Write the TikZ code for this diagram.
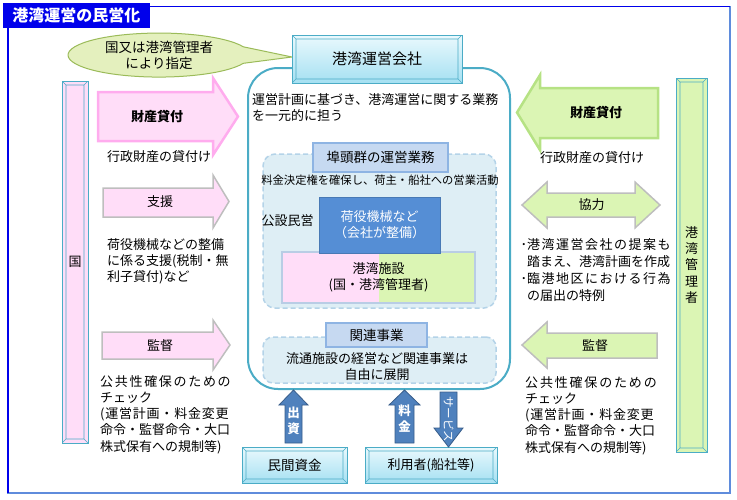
\documentclass[tikz,border=0pt]{standalone}
\usepackage{fontspec}
\setmainfont{Noto Sans CJK JP}

\definecolor{titleblue}{RGB}{0,0,235}
\definecolor{framelight}{RGB}{95,140,220}
\definecolor{bevline}{RGB}{75,172,198}
\definecolor{bevtop}{RGB}{234,249,253}
\definecolor{bevbot}{RGB}{165,224,242}
\definecolor{pinkfill}{RGB}{255,221,248}
\definecolor{pinkline}{RGB}{255,172,238}
\definecolor{greenfill}{RGB}{219,245,180}
\definecolor{greenline}{RGB}{182,226,132}
\definecolor{greyline}{RGB}{190,190,190}
\definecolor{ellfill}{RGB}{228,240,190}
\definecolor{ellline}{RGB}{155,187,89}
\definecolor{dashfill}{RGB}{222,238,245}
\definecolor{dashline}{RGB}{180,211,232}
\definecolor{labfill}{RGB}{198,217,241}
\definecolor{labline}{RGB}{142,180,227}
\definecolor{darkbox}{RGB}{85,142,213}
\definecolor{facline}{RGB}{185,205,229}
\definecolor{arrblue}{RGB}{79,129,189}
\definecolor{arrline}{RGB}{56,93,138}

\tikzset{
  bevel/.style={draw=bevline, line width=1pt, path picture={
      \draw[bevline, line width=0.6pt]
        ([shift={(4pt,4pt)}]path picture bounding box.south west) rectangle ([shift={(-4pt,-4pt)}]path picture bounding box.north east)
        (path picture bounding box.south west) -- ++(4pt,4pt)
        (path picture bounding box.north west) -- ++(4pt,-4pt)
        (path picture bounding box.north east) -- ++(-4pt,-4pt)
        (path picture bounding box.south east) -- ++(-4pt,4pt);}},
  cyanbox/.style={bevel, top color=bevtop, bottom color=bevbot},
  mainbox/.style={draw=bevline, fill=white, line width=2pt, rounded corners=30},
  dashbox/.style={draw=dashline, fill=dashfill, line width=1.5pt, dash pattern=on 5pt off 3pt, rounded corners=12},
  labbox/.style={draw=labline, fill=labfill, line width=1.5pt, font=\fontsize{13.5}{16}\selectfont},
  facbox/.style={draw=facline, line width=2.5pt, path picture={
      \fill[pinkfill] (path picture bounding box.south west) rectangle (path picture bounding box.north);
      \fill[greenfill] (path picture bounding box.south) rectangle (path picture bounding box.north east);}},
  pinkarr/.style={fill=pinkfill, draw=greyline, line width=1.5pt},
  greenarr/.style={fill=greenfill, draw=greyline, line width=1.5pt},
  bluearr/.style={fill=arrblue, draw=arrline, line width=0.8pt},
  arrtxt/.style={text=white, align=center, font=\fontsize{12.5}{16}\selectfont\bfseries}
}

\begin{document}
\begin{tikzpicture}[x=1pt,y=-1pt,
    every node/.style={inner sep=0pt, font=\fontsize{13}{16}\selectfont}]
    \useasboundingbox (0,0) rectangle (737,499);

    % 外枠とタイトル
    \draw[framelight, line width=1.5pt] (8,6.5) rectangle (730,493);
    \draw[titleblue, line width=1.2pt] (8,493) -- (8,6.5) -- (730,6.5);
    \node[fill=titleblue, text=white, font=\fontsize{16}{18}\selectfont\bfseries,
          minimum width=147, minimum height=25] (title) at (76.5,15.5) {港湾運営の民営化};

    % 吹き出し
    \filldraw[fill=ellfill, draw=ellline, line width=1pt] (243.4,63.3)
        arc[start angle=22, end angle=338, x radius=91, y radius=22] -- (292,57) -- cycle;
    \node[align=center, font=\fontsize{13.5}{15.5}\selectfont] (shitei) at (159,55.5) {国又は港湾管理者\\により指定};

    % 港湾運営会社
    \node[mainbox, minimum width=262, minimum height=321] (unei) at (379,228.5) {};
    \node[cyanbox, minimum width=170, minimum height=48, font=\fontsize{15}{18}\selectfont] (kaisha) at (377,59) {港湾運営会社};
    \node[anchor=west, align=left] (gyomu) at (252,108) {運営計画に基づき、港湾運営に関する業務\\を一元的に担う};

    % 埠頭群の運営業務
    \node[dashbox, minimum width=233, minimum height=154] (futo) at (379.5,231) {};
    \node[labbox, minimum width=135, minimum height=29] (futolab) at (380.5,157.5) {埠頭群の運営業務};
    \node[font=\fontsize{11.3}{14}\selectfont] (ryokin) at (380,180) {料金決定権を確保し、荷主・船社への営業活動};
    \node (kosetsu) at (287.5,221) {公設民営};
    \node[facbox, minimum width=193, minimum height=51, align=center] (shisetsu) at (378.5,277.5) {港湾施設\\(国・港湾管理者)};
    \node[fill=darkbox, draw=darkbox!85!black, line width=0.5pt, minimum width=121, minimum height=56,
          text=white, align=center] (kiki) at (379.5,225) {荷役機械など\\（会社が整備）};

    % 関連事業
    \node[dashbox, rounded corners=10, minimum width=233, minimum height=46] (kanren) at (379.5,360) {};
    \node[labbox, minimum width=101, minimum height=24] (kanrenlab) at (376.5,335) {関連事業};
    \node[align=center, font=\fontsize{13}{15.5}\selectfont] (ryutsu) at (377,366.5) {流通施設の経営など関連事業は\\自由に展開};

    % 国側の矢印
    \draw[pinkarr, draw=pinkline, line width=2.5pt] (98,92) -- (213,92) -- (213,78) -- (238,116.5) -- (213,155) -- (213,141) -- (98,141) -- cycle;
    \node[font=\fontsize{13}{16}\selectfont\bfseries] (zaisanL) at (157,117) {財産貸付};
    \draw[pinkarr] (103,188) -- (213,188) -- (213,175) -- (229,201.5) -- (213,228) -- (213,217) -- (103,217) -- cycle;
    \node (shien) at (160,202) {支援};
    \draw[pinkarr] (102,332) -- (213,332) -- (213,320) -- (230,345) -- (213,370) -- (213,359) -- (102,359) -- cycle;
    \node (kantokuL) at (160,346) {監督};

    % 港湾管理者側の矢印
    \draw[greenarr, draw=greenline, line width=2.5pt] (658,88) -- (540,88) -- (540,75) -- (517,112.5) -- (540,150) -- (540,138) -- (658,138) -- cycle;
    \node[font=\fontsize{13}{16}\selectfont\bfseries] (zaisanR) at (596,113) {財産貸付};
    \draw[greenarr] (522,205) -- (547,182) -- (547,193) -- (635,193) -- (635,182) -- (660,205)
        -- (635,228) -- (635,217) -- (547,217) -- (547,228) -- cycle;
    \node (kyoryoku) at (591.5,205) {協力};
    \draw[greenarr] (657,333) -- (547,333) -- (547,322) -- (522,345) -- (547,368) -- (547,358) -- (657,358) -- cycle;
    \node (kantokuR) at (595,345.5) {監督};

    % 両側の帯
    \node[bevel, fill=pinkfill, minimum width=26, minimum height=362] (kuni) at (75,262) {国};
    \node[bevel, fill=greenfill, minimum width=31, minimum height=374, align=center,
          font=\fontsize{13}{16.3}\selectfont] (kanrisha) at (691.5,265) {港\\湾\\管\\理\\者};

    % 説明文
    \node[anchor=west] (kashiL) at (107,157) {行政財産の貸付け};
    \node[anchor=west, align=left] (shientxt) at (107,261) {荷役機械などの整備\\に係る支援(税制・無\\利子貸付)など};
    \node[anchor=west, align=left, font=\fontsize{13}{16.25}\selectfont] (checkL) at (100,414.5)
        {{\addfontfeature{LetterSpace=13}公共性確保のための}\\チェック\\{\addfontfeature{LetterSpace=6}(運営計画・料金変更}\\命令・監督命令・大口\\株式保有への規制等)};
    \node[anchor=west] (kashiR) at (540,158) {行政財産の貸付け};
    \node[anchor=west, align=left, font=\fontsize{13}{17}\selectfont] (teian) at (520.5,270.5)
        {･{\addfontfeature{LetterSpace=11.5}港湾運営会社の提案も}\\\hspace*{6.5pt}踏まえ、港湾計画を作成\\･{\addfontfeature{LetterSpace=11.5}臨港地区における行為}\\\hspace*{6.5pt}の届出の特例};
    \node[anchor=west, align=left, font=\fontsize{13}{16.25}\selectfont] (checkR) at (525,415.5)
        {{\addfontfeature{LetterSpace=14}公共性確保のための}\\チェック\\{\addfontfeature{LetterSpace=6}(運営計画・料金変更}\\命令・監督命令・大口\\株式保有への規制等)};

    % 下の箱と矢印
    \node[cyanbox, minimum width=105, minimum height=36, font=\fontsize{13.5}{16}\selectfont] (minkan) at (294.5,465) {民間資金};
    \node[cyanbox, minimum width=132, minimum height=36] (riyo) at (431,465) {利用者(船社等)};
    \draw[bluearr] (285,443) -- (285,405) -- (279,405) -- (293.5,390) -- (308,405) -- (302,405) -- (302,443) -- cycle;
    \node[arrtxt] (shusshi) at (293.5,421) {出\\資};
    \draw[bluearr] (395,443) -- (395,405) -- (389,405) -- (404.5,390) -- (420,405) -- (414,405) -- (414,443) -- cycle;
    \node[arrtxt] (ryokinA) at (404.5,418.5) {料\\金};
    \draw[bluearr] (440,392) -- (457,392) -- (457,428) -- (463,428) -- (448.5,447) -- (434,428) -- (440,428) -- cycle;
    \node[text=white, rotate=-90, font=\fontsize{11.5}{14}\selectfont] (service) at (448.5,419) {サービス};
\end{tikzpicture}
\end{document}
